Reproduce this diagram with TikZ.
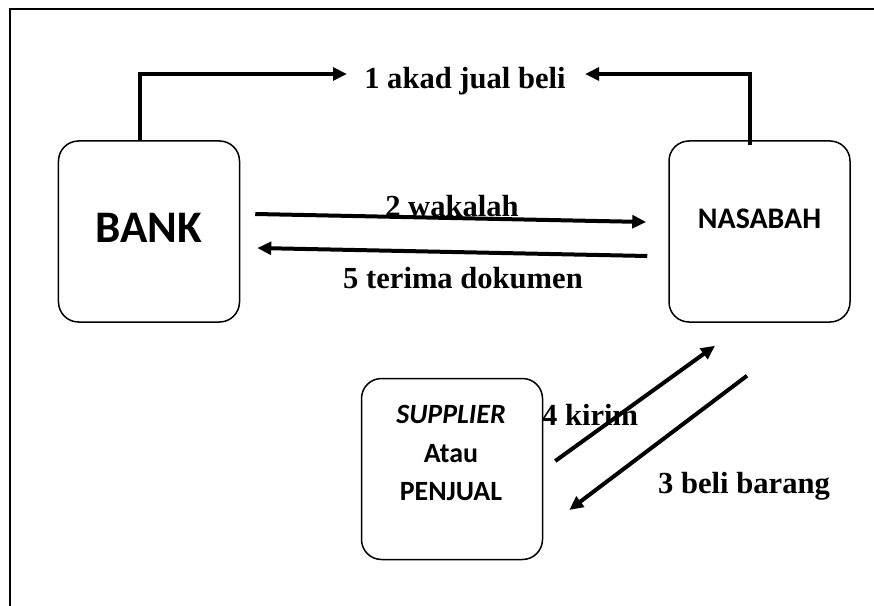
\documentclass[tikz,border=0pt]{standalone}
\usepackage{fontspec}
\setmainfont{Liberation Serif}
\newfontfamily\calib{Carlito}
\usetikzlibrary{arrows.meta,calc}
\begin{document}
\begin{tikzpicture}[x=1bp,y=-1bp,
  box/.style={draw, line width=1.5bp, rounded corners=20bp, minimum width=181bp, minimum height=181bp, inner sep=0pt},
  flow/.style={line width=4bp, -{Triangle[length=14bp,width=12.7bp]}},
  lbl/.style={font=\bfseries\fontsize{30.7}{36}\selectfont, inner sep=0pt},
  boxtext/.style={font=\calib\bfseries\fontsize{28}{38.7}\selectfont, inner sep=0pt, align=center}]
\fill[white] (0,0) rectangle (874,606);
\useasboundingbox (0,0) rectangle (874,606);
\draw[line width=2bp, line cap=butt] (10,606) -- (10,9) -- (874,9);

\node[box] (bank) at (149,231.5) {};
\node[box] (nasabah) at (759.5,231.5) {};
\node[box] (supplier) at (452,469) {};

\node[inner sep=0pt, font=\calib\bfseries\fontsize{45.3}{52}\selectfont] (banktxt) at (149,228) {BANK};
\node[boxtext, font=\calib\bfseries\fontsize{30}{38.7}\selectfont] (nasabahtxt) at (759.5,219) {NASABAH};
\node[boxtext] (suppliertxt) at (451,453) {\textit{SUPPLIER}\\Atau\\PENJUAL};

\node[lbl, anchor=base] (akad) at (465,89) {1 akad jual beli};
\node[lbl, anchor=base] (wakalah) at (452,217) {2 wakalah};
\node[lbl, anchor=base] (terima) at (463,288) {5 terima dokumen};
\node[lbl, anchor=base west] (kirim) at (542,425) {4 kirim};
\node[lbl, anchor=base west] (beli) at (658,493) {3 beli barang};

\coordinate (akLtip) at (347,74);
\coordinate (akRtip) at (585,74);
\draw[flow] ([shift={(-9,0)}]bank.north) |- (akLtip);
\draw[flow] ([shift={(-9.5,5)}]nasabah.north) |- (akRtip);

\draw[flow] ([shift={(15,-17.5)}]bank.east) -- ([shift={(-22,-9.5)}]nasabah.west);
\draw[flow] ([shift={(-21,24.5)}]nasabah.west) -- ([shift={(17,16.5)}]bank.east);
\draw[flow] ([shift={(12,-8)}]supplier.east) -- ([shift={(-44.5,23)}]nasabah.south);
\draw[flow] ([shift={(-12.5,53)}]nasabah.south) -- ([shift={(26,41)}]supplier.east);
\end{tikzpicture}
\end{document}
